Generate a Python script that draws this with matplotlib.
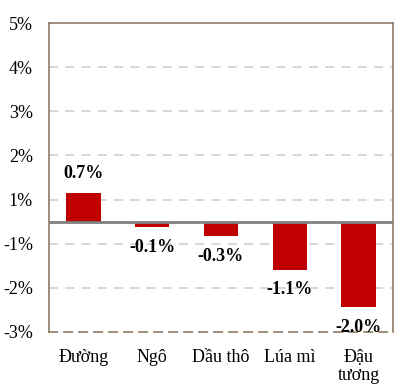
import matplotlib
matplotlib.use("Agg")
import matplotlib.pyplot as plt
import numpy as np

categories = ["Đường", "Ngô", "Dầu thô", "Lúa mì", "Đậu\ntương"]
values = [0.66, -0.13, -0.33, -1.09, -1.94]
value_labels = ["0.7%", "-0.1%", "-0.3%", "-1.1%", "-2.0%"]
y_ticks = [-2.5, -1.5, -0.5, 0.5, 1.5, 2.5, 3.5, 4.5]
y_tick_labels = ["-3%", "-2%", "-1%", "1%", "2%", "3%", "4%", "5%"]

plt.rcParams['font.family'] = ['Liberation Serif', 'DejaVu Serif']

fig = plt.figure(figsize=(4.19, 3.92), dpi=100)
ax = fig.add_axes([49/419, 1-332/392, (393-49)/419, (332-23)/392])

x = np.arange(len(categories))
ax.bar(x, values, width=0.5, color="#C00000", zorder=3)
ax.axhline(0, color="#808080", lw=2, zorder=4)

ax.set_ylim(-2.5, 4.5)
ax.set_xlim(-0.5, len(categories)-0.5)
ax.set_yticks(y_ticks)
ax.set_yticklabels(y_tick_labels, fontsize=13)
ax.set_xticks(x)
ax.set_xticklabels(categories, fontsize=13, linespacing=1.1)
ax.tick_params(axis='both', length=0)
ax.tick_params(axis='y', pad=11.5)
ax.tick_params(axis='x', pad=12)

for gy in y_ticks:
    if gy in (-2.5, 4.5):
        continue
    ax.axhline(gy, color="#d3d3d3", lw=1.3, ls=(0, (5, 4)), zorder=1)

for xi, v, lab in zip(x, values, value_labels):
    off = 19 if v >= 0 else -20
    ax.annotate(lab, (xi, v), xytext=(0, off*0.72), textcoords="offset points",
                ha="center", va="center", fontsize=13, fontweight="bold", zorder=5)

spine_c = "#8c7b65"
for s in ["left", "right", "top"]:
    ax.spines[s].set_color(spine_c)
    ax.spines[s].set_linewidth(1.2)
ax.spines["bottom"].set_color(spine_c)
ax.spines["bottom"].set_linewidth(1.2)
ax.spines["bottom"].set_linestyle((0, (5, 4)))

fig.savefig("out.png", dpi=100)
